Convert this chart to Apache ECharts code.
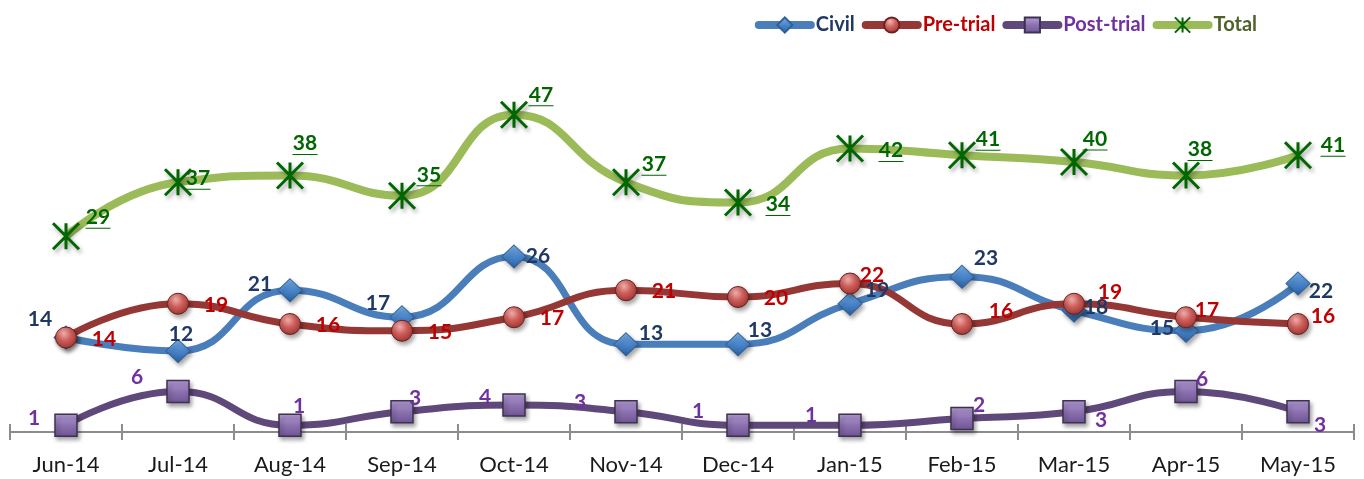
<!DOCTYPE html>
<html>
<head>
<meta charset="utf-8">
<title>Cases by month</title>
<script src="https://cdn.jsdelivr.net/npm/echarts@6/dist/echarts.min.js"></script>
<style>
  html, body { margin: 0; padding: 0; background: #fff; }
  #chart { width: 1364px; height: 479px; }
</style>
</head>
<body>
<div id="chart"></div>
<script>
// categories and values
const categories = ["Jun-14", "Jul-14", "Aug-14", "Sep-14", "Oct-14", "Nov-14",
  "Dec-14", "Jan-15", "Feb-15", "Mar-15", "Apr-15", "May-15"];
const civil = [14, 12, 21, 17, 26, 13, 13, 19, 23, 18, 15, 22];
const preTrial = [14, 19, 16, 15, 17, 21, 20, 22, 16, 19, 17, 16];
const postTrial = [1, 6, 1, 3, 4, 3, 1, 1, 2, 3, 6, 3];
const total = [29, 37, 38, 35, 47, 37, 34, 42, 41, 40, 38, 41];

// where each data label sits relative to its point (layout only)
const civilLabelOffset = [[-26, -18], [3, -17], [-30, -6], [-24, -14], [24, 0], [25, -11],
  [22, -14], [27, -14], [24, -19], [22, -3], [-24, -3], [23, 8]];
const preLabelOffset = [[38, 2], [38, 1], [38, 1], [38, 1], [38, 1], [38, 1],
  [38, 1], [22, -8], [39, -13], [36, -12], [21, -7], [25, -8]];
const postLabelOffset = [[-32, -7], [-41, -14], [9, -19], [13, -14], [-29, -8], [-46, -10],
  [-40, -14], [-39, -10], [17, -13], [27, 8], [16, -12], [22, 13]];
const totalLabelOffset = [[32, -19], [20, -4], [15, -32], [27, -21], [27, -20], [28, -18],
  [40, 2], [41, 2], [26, -16], [21, -23], [14, -26], [35, -10]];

const FONT = "Lato";

function withOffsets(values, offsets) {
  return values.map((v, i) => ({ value: v, label: { offset: offsets[i] } }));
}

const markerShadow = {
  shadowBlur: 4,
  shadowColor: "rgba(0,0,0,0.35)",
  shadowOffsetX: 2,
  shadowOffsetY: 3,
};

const chart = echarts.init(document.getElementById("chart"));

chart.setOption({
  animation: false,
  backgroundColor: "#fff",
  grid: {
    left: 10,
    right: 10,
    top: 27,
    bottom: 47,
  },
  legend: {
    right: 102,
    top: 10,
    itemWidth: 52,
    itemHeight: 19,
    itemGap: 7,
    lineStyle: { width: 8, cap: "round" },
    textStyle: { fontFamily: FONT, fontWeight: "bold", fontSize: 20 },
    data: [
      { name: "Civil", textStyle: { color: "#1F3864" } },
      { name: "Pre-trial", textStyle: { color: "#C00000" } },
      { name: "Post-trial", textStyle: { color: "#7030A0" } },
      { name: "Total", textStyle: { color: "#4F6228" } },
    ],
  },
  xAxis: [
    {
      type: "category",
      data: categories,
      boundaryGap: true,
      axisLine: { lineStyle: { color: "#8C8C8C", width: 2 } },
      axisTick: { show: true, length: 8, lineStyle: { color: "#8C8C8C", width: 2 } },
      axisLabel: {
        margin: 22,
        color: "#1a1a1a",
        fontFamily: FONT,
        fontSize: 22,
      },
    },
    {
      // second copy only for the upper half of the ticks
      type: "category",
      data: categories,
      position: "bottom",
      boundaryGap: true,
      axisLine: { show: false },
      axisTick: { show: true, inside: true, length: 8, lineStyle: { color: "#8C8C8C", width: 2 } },
      axisLabel: { show: false },
    },
  ],
  yAxis: {
    type: "value",
    show: false,
    min: 0,
    max: 60,
    splitLine: { show: false },
  },
  series: [
    {
      name: "Civil",
      type: "line",
      smooth: true,
      data: withOffsets(civil, civilLabelOffset),
      symbol: "diamond",
      symbolSize: [24, 23],
      lineStyle: { color: "#4A7EBB", width: 7 },
      itemStyle: Object.assign({
        color: new echarts.graphic.LinearGradient(0, 0, 0, 1, [
          { offset: 0, color: "#7DB2E8" },
          { offset: 0.5, color: "#4A86CC" },
          { offset: 1, color: "#2A5F9E" },
        ]),
        borderColor: "#2F5F98",
        borderWidth: 1,
      }, markerShadow),
      label: {
        show: true,
        position: "inside",
        color: "#1F3864",
        fontFamily: FONT,
        fontWeight: "bold",
        fontSize: 21,
      },
    },
    {
      name: "Pre-trial",
      type: "line",
      smooth: true,
      data: withOffsets(preTrial, preLabelOffset),
      symbol: "circle",
      symbolSize: 21,
      lineStyle: { color: "#953735", width: 7 },
      itemStyle: Object.assign({
        color: new echarts.graphic.RadialGradient(0.4, 0.3, 0.75, [
          { offset: 0, color: "#F6B4B2" },
          { offset: 0.45, color: "#D0605C" },
          { offset: 1, color: "#9A3230" },
        ]),
        borderColor: "#6B2220",
        borderWidth: 1,
      }, markerShadow),
      label: {
        show: true,
        position: "inside",
        color: "#C00000",
        fontFamily: FONT,
        fontWeight: "bold",
        fontSize: 21,
      },
    },
    {
      name: "Post-trial",
      type: "line",
      smooth: true,
      data: withOffsets(postTrial, postLabelOffset),
      symbol: "rect",
      symbolSize: 22,
      lineStyle: { color: "#5F497A", width: 7 },
      itemStyle: Object.assign({
        color: new echarts.graphic.LinearGradient(0, 0, 0, 1, [
          { offset: 0, color: "#B9A3DC" },
          { offset: 0.5, color: "#8C71B0" },
          { offset: 1, color: "#6E5592" },
        ]),
        borderColor: "#3F3151",
        borderWidth: 1.5,
      }, markerShadow),
      label: {
        show: true,
        position: "inside",
        color: "#7030A0",
        fontFamily: FONT,
        fontWeight: "bold",
        fontSize: 21,
      },
    },
    {
      name: "Total",
      type: "line",
      smooth: true,
      data: withOffsets(total, totalLabelOffset),
      symbol: "path://M0,0L10,10M10,0L0,10M5,0L5,10",
      symbolSize: 26,
      lineStyle: { color: "#9BBB59", width: 8 },
      itemStyle: Object.assign({
        color: "rgba(0,0,0,0)",
        borderColor: "#006600",
        borderWidth: 3,
      }, markerShadow),
      label: {
        show: true,
        position: "inside",
        formatter: (p) => "{n|" + p.value + "}\n{u|}",
        rich: {
          n: {
            color: "#006600",
            fontFamily: FONT,
            fontWeight: "bold",
            fontSize: 21,
            lineHeight: 22,
            align: "center",
          },
          u: {
            width: 25,
            height: 0,
            align: "center",
            borderWidth: 1.2,
            borderColor: "#006600",
          },
        },
      },
    },
  ],
});
</script>
</body>
</html>
